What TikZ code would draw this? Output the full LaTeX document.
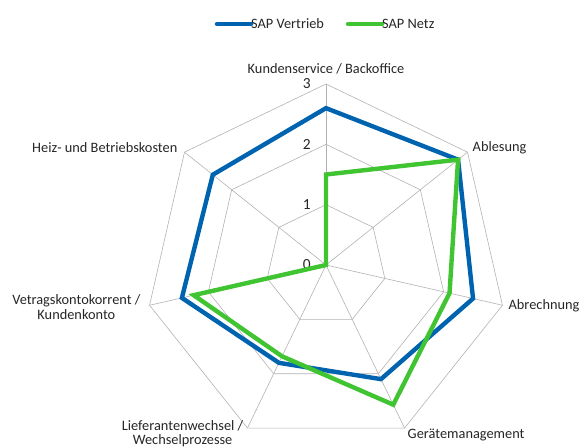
\documentclass[tikz,border=0pt]{standalone}
\usepackage{fontspec}
\setmainfont{Carlito}
\definecolor{vertrieb}{RGB}{0,99,176}
\definecolor{netz}{RGB}{64,196,50}
\tikzset{
  netzgrid/.style={gray!60, line width=0.6bp},
  series/.style={line width=4.4bp, line join=miter},
  axislab/.style={font=\fontsize{14.4}{14.6}\selectfont, inner sep=1bp, text=black!85},
  ticklab/.style={font=\fontsize{15.5}{17}\selectfont, inner sep=1bp, text=black!85},
  legline/.style={line width=4.5bp, line cap=round}
}
\begin{document}
\begin{tikzpicture}[x=1bp,y=1bp]
\useasboundingbox (0,0) rectangle (579,448);
% legend
\draw[legline, vertrieb] (217,424) coordinate (lv1) -- (251,424) coordinate (lv2);
\node[axislab, anchor=west, inner sep=0pt] (legv) at (lv2) {SAP Vertrieb};
\draw[legline, netz] (348,424) coordinate (ln1) -- (382,424) coordinate (ln2);
\node[axislab, anchor=west, inner sep=0pt] (legn) at (ln2) {SAP Netz};
\begin{scope}[shift={(326,183)}]
\coordinate (c) at (0,0);
\foreach \i in {0,...,6} % axis end points
  \coordinate (a\i) at (90-\i*360/7:181);
% rings
\foreach \r in {1,2,3}
  \draw[netzgrid] (90:\r*60.33) \foreach \i in {1,...,6}{ -- (90-\i*360/7:\r*60.33)} -- cycle;
% spokes
\foreach \i in {0,...,6}
  \draw[netzgrid] (c) -- (a\i);
% tick numbers
\foreach \r in {0,1,2,3}
  \node[ticklab, anchor=east] (t\r) at (-14,\r*60.33) {\r};
% series
\draw[series, vertrieb] (90:2.6*60.33) -- (90-360/7:2.8*60.33) -- (90-2*360/7:2.5*60.33)
  -- (90-3*360/7:2.1*60.33) -- (90-4*360/7:1.8*60.33) -- (90-5*360/7:2.45*60.33)
  -- (90-6*360/7:2.4*60.33) -- cycle;
\draw[series, netz] (90:1.5*60.33) -- (90-360/7:2.8*60.33) -- (90-2*360/7:2.1*60.33)
  -- (90-3*360/7:2.57*60.33) -- (90-4*360/7:1.68*60.33) -- (90-5*360/7:2.25*60.33)
  -- (c) -- cycle;
% axis labels
\node[axislab, anchor=south] (l0) at ([yshift=9]a0) {Kundenservice / Backoffice};
\node[axislab, anchor=west] (l1) at ([xshift=4,yshift=4]a1) {Ablesung};
\node[axislab, anchor=west] (l2) at ([xshift=5]a2) {Abrechnung};
\node[axislab, anchor=west] (l3) at ([xshift=2,yshift=-7]a3) {Gerätemanagement};
\node[axislab, anchor=east, align=center] (l4) at ([xshift=-3,yshift=-5.5]a4) {Lieferantenwechsel /\\Wechselprozesse};
\node[axislab, anchor=east, align=center] (l5) at ([xshift=-8,yshift=-2]a5) {Vetragskontokorrent /\\Kundenkonto};
\node[axislab, anchor=east] (l6) at ([xshift=-6,yshift=5]a6) {Heiz- und Betriebskosten};
\end{scope}
\end{tikzpicture}
\end{document}
